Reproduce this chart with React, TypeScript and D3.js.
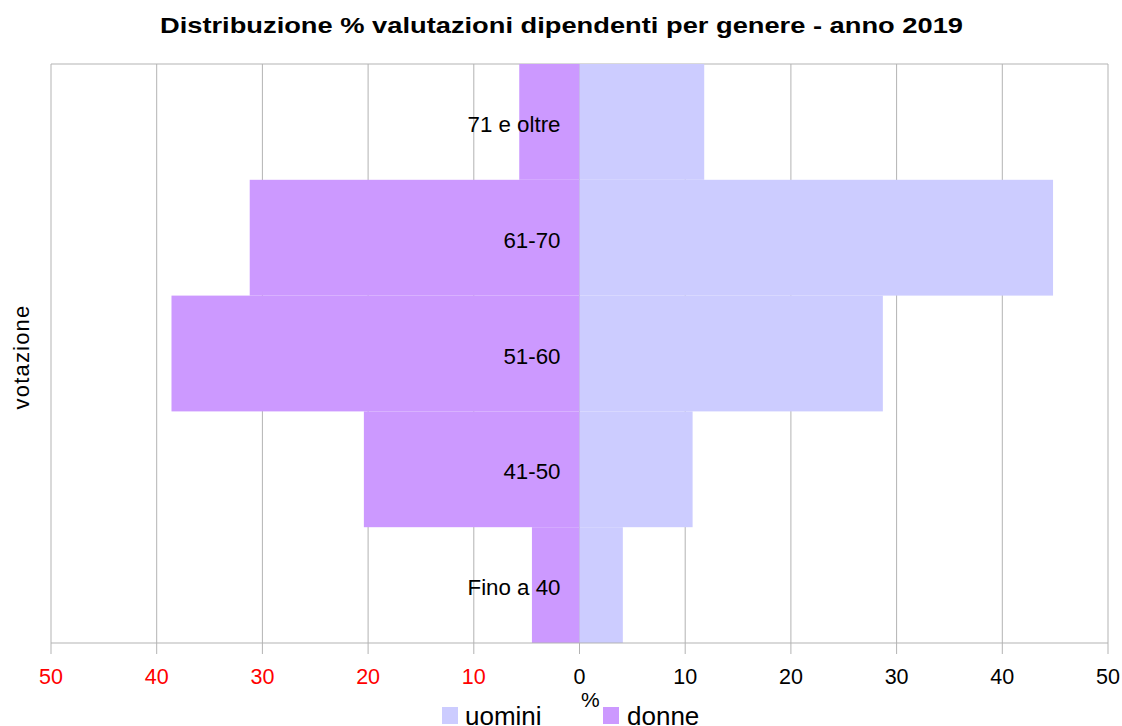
import React from "react";
import * as d3 from "d3";

const categories = ["71 e oltre", "61-70", "51-60", "41-50", "Fino a 40"];
const uomini = [11.8, 44.8, 28.7, 10.7, 4.1];
const donne = [5.7, 31.2, 38.6, 20.4, 4.5];
const ticks = [-50, -40, -30, -20, -10, 0, 10, 20, 30, 40, 50];

const W = 1122;
const H = 726;
const M = { left: 51, right: 1108, top: 64, bottom: 643 };
const FONT = "'Liberation Sans', Arial, sans-serif";
const UOMINI_COLOR = "#CCCCFF";
const DONNE_COLOR = "#CC99FF";
const GRID = "#B3B3B3";

export default function App() {
  const x = d3.scaleLinear().domain([-50, 50]).range([M.left, M.right]);
  const y = d3.scaleBand<string>().domain(categories).range([M.top, M.bottom]).padding(0);
  const x0 = x(0);

  return (
    <svg
      width={W}
      height={H}
      style={{ position: "absolute", left: 0, top: 0, background: "#fff" }}
      fontFamily={FONT}
    >
      <text
        x={160}
        y={33}
        fontSize={22}
        fontWeight="bold"
        textLength={803}
        lengthAdjust="spacingAndGlyphs"
        fill="#000"
      >
        Distribuzione % valutazioni dipendenti per genere - anno 2019
      </text>

      {ticks.map((t) => (
        <line key={"g" + t} x1={x(t)} x2={x(t)} y1={M.top} y2={M.bottom + 11} stroke={GRID} strokeWidth={1} />
      ))}
      <line x1={M.left} x2={M.right} y1={M.top} y2={M.top} stroke={GRID} strokeWidth={1} />

      {categories.map((c, i) => (
        <g key={c}>
          <rect x={x(-donne[i])} y={y(c)!} width={x0 - x(-donne[i])} height={y.bandwidth()} fill={DONNE_COLOR} />
          <rect x={x0} y={y(c)!} width={x(uomini[i]) - x0} height={y.bandwidth()} fill={UOMINI_COLOR} />
        </g>
      ))}

      <line x1={M.left} x2={M.right} y1={M.bottom} y2={M.bottom} stroke={GRID} strokeWidth={1} />

      {categories.map((c) => (
        <text
          key={"l" + c}
          x={x0 - 19}
          y={y(c)! + y.bandwidth() / 2 + 10}
          textAnchor="end"
          fontSize={22.3}
          fill="#000"
        >
          {c}
        </text>
      ))}

      {ticks.map((t) => (
        <text
          key={"t" + t}
          x={x(t)}
          y={684}
          textAnchor="middle"
          fontSize={21.5}
          fill={t < 0 ? "#FF0000" : "#000"}
        >
          {Math.abs(t)}
        </text>
      ))}

      <text x={581} y={707} fontSize={21} fill="#000">%</text>

      <text
        transform={`translate(29, 357) rotate(-90)`}
        textAnchor="middle"
        fontSize={22}
        letterSpacing={1.2}
        fill="#000"
      >
        votazione
      </text>

      <rect x={442} y={707} width={16} height={17} fill={UOMINI_COLOR} />
      <text x={465} y={725} fontSize={26} fill="#000">uomini</text>
      <rect x={603} y={707} width={16} height={17} fill={DONNE_COLOR} />
      <text x={627} y={725} fontSize={26} fill="#000">donne</text>
    </svg>
  );
}
